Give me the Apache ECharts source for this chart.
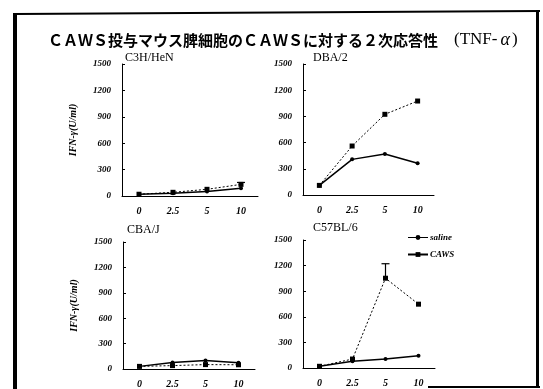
<!DOCTYPE html>
<html><head><meta charset="utf-8">
<script src="https://cdn.jsdelivr.net/npm/echarts@6/dist/echarts.min.js"></script>
<style>html,body{margin:0;padding:0;background:#fff}#c{width:543px;height:389px}</style>
</head><body><div id="c"></div>
<script>
const categories = ['0', '2.5', '5', '10'];
const panelNames = ['C3H/HeN', 'DBA/2', 'CBA/J', 'C57BL/6'];
const seriesNames = ['saline', 'CAWS'];
const yTicks = [0, 300, 600, 900, 1200, 1500];

const c3hSaline = [20, 30, 52, 88];
const c3hCaws   = [20, 42, 76, 132];
const dbaSaline = [110, 408, 470, 363];
const dbaCaws   = [110, 561, 924, 1076];
const cbaSaline = [31, 77, 100, 75];
const cbaCaws   = [31, 40, 52, 50];
const c57Saline = [20, 78, 105, 144];
const c57Caws   = [20, 105, 1052, 748];

const c3hCawsErr = [0, 0, 0, 22];
const dbaCawsErr = [0, 0, 0, 0];
const cbaCawsErr = [0, 0, 0, 0];
const c57CawsErr = [0, 0, 170, 0];

const salineSets = [c3hSaline, dbaSaline, cbaSaline, c57Saline];
const cawsSets = [c3hCaws, dbaCaws, cbaCaws, c57Caws];
const errSets = [c3hCawsErr, dbaCawsErr, cbaCawsErr, c57CawsErr];

const grids = [
  {left: 122, top: 64, width: 136, height: 132},
  {left: 303, top: 64, width: 131, height: 131},
  {left: 123, top: 242, width: 132, height: 128},
  {left: 303, top: 240, width: 132, height: 128}
];

const serif = 'Liberation Serif';
const lblStyle = {fontFamily: serif, fontStyle: 'italic', fontWeight: 'bold', color: '#000'};

const xAxes = grids.map((g, i) => ({
  type: 'category', gridIndex: i, data: categories, boundaryGap: true,
  axisLine: {lineStyle: {color: '#000', width: 1}},
  axisTick: {inside: true, length: 3, lineStyle: {color: '#000'}},
  axisLabel: Object.assign({fontSize: 10, margin: 10}, lblStyle)
}));
const yAxes = grids.map((g, i) => ({
  type: 'value', gridIndex: i, min: yTicks[0], max: yTicks[yTicks.length - 1], interval: 300,
  splitLine: {show: false},
  axisLine: {show: true, lineStyle: {color: '#000', width: 1}},
  axisTick: {show: true, inside: true, length: 3, lineStyle: {color: '#000'}},
  axisLabel: Object.assign({fontSize: 9, margin: 11, formatter: v => String(v)}, lblStyle),
  name: (i % 2 === 0) ? 'IFN-γ(U/ml)' : '',
  nameLocation: 'middle', nameGap: 44, nameRotate: 90,
  nameTextStyle: Object.assign({fontSize: 10}, lblStyle)
}));

const series = [];
for (let i = 0; i < 4; i++) {
  series.push({
    name: 'saline', type: 'line', xAxisIndex: i, yAxisIndex: i,
    data: salineSets[i], symbol: 'circle', symbolSize: 4,
    itemStyle: {color: '#000'}, lineStyle: {color: '#000', width: 1.5}
  });
  series.push({
    name: 'CAWS', type: 'line', xAxisIndex: i, yAxisIndex: i,
    data: cawsSets[i], symbol: 'rect', symbolSize: 5,
    itemStyle: {color: '#000'}, lineStyle: {color: '#000', width: 1, type: [2, 2]}
  });
  series.push({
    type: 'custom', xAxisIndex: i, yAxisIndex: i,
    data: cawsSets[i].map((v, k) => [k, v, errSets[i][k]]),
    renderItem: function (params, api) {
      const e = api.value(2);
      if (!e) return null;
      const p0 = api.coord([api.value(0), api.value(1)]);
      const p1 = api.coord([api.value(0), api.value(1) + e]);
      return {type: 'group', children: [
        {type: 'line', shape: {x1: p0[0], y1: p0[1], x2: p1[0], y2: p1[1]}, style: {stroke: '#000', lineWidth: 1.2}},
        {type: 'line', shape: {x1: p1[0] - 4, y1: p1[1], x2: p1[0] + 4, y2: p1[1]}, style: {stroke: '#000', lineWidth: 1.2}}
      ]};
    }
  });
}

const titles = [
  {left: 48, top: 31, text: '{a|ＣＡＷＳ投与マウス脾細胞のＣＡＷＳに対する２次応答性}{b|(TNF-}{c|α}{d|)}',
   textStyle: {fontWeight: 'normal', rich: {
     a: {fontFamily: 'Noto Sans CJK JP', fontWeight: 'bold', fontSize: 15, color: '#000'},
     b: {fontFamily: serif, fontWeight: 'normal', fontSize: 17, color: '#000', padding: [0, 1, 0, 16]},
     c: {fontFamily: serif, fontWeight: 'normal', fontStyle: 'italic', fontSize: 18, color: '#000', padding: [0, 2, 0, 2]},
     d: {fontFamily: serif, fontWeight: 'normal', fontSize: 17, color: '#000'}
   }}},
  {left: 125, top: 52, text: panelNames[0]},
  {left: 313, top: 52, text: panelNames[1]},
  {left: 127, top: 224, text: panelNames[2]},
  {left: 313, top: 222, text: panelNames[3]}
];
titles.slice(1).forEach(t => { t.textStyle = {fontFamily: serif, fontWeight: 'normal', fontSize: 12, color: '#000'}; t.padding = 0; });
titles[0].padding = 0;

const chart = echarts.init(document.getElementById('c'), null, {renderer: 'canvas'});
chart.setOption({
  animation: false,
  backgroundColor: '#fff',
  title: titles,
  grid: grids,
  xAxis: xAxes,
  yAxis: yAxes,
  legend: {
    orient: 'vertical', left: 402, top: 228, itemWidth: 20, itemHeight: 6, itemGap: 8,
    textStyle: Object.assign({fontSize: 9, padding: [0, 0, 0, -3]}, lblStyle),
    data: [
      {name: seriesNames[0], lineStyle: {type: 'solid', width: 1}},
      {name: seriesNames[1], lineStyle: {type: 'solid', width: 2}}
    ]
  },
  series: series,
  graphic: [
    {type: 'rect', shape: {x: 13, y: 13, width: 4, height: 376}, style: {fill: '#000'}},
    {type: 'line', shape: {x1: 15, y1: 14, x2: 540, y2: 11}, style: {stroke: '#000', lineWidth: 2}},
    {type: 'rect', shape: {x: 536, y: 10, width: 3, height: 378}, style: {fill: '#000'}},
    {type: 'line', shape: {x1: 428, y1: 387, x2: 540, y2: 387}, style: {stroke: '#000', lineWidth: 2}}
  ]
});
</script></body></html>
